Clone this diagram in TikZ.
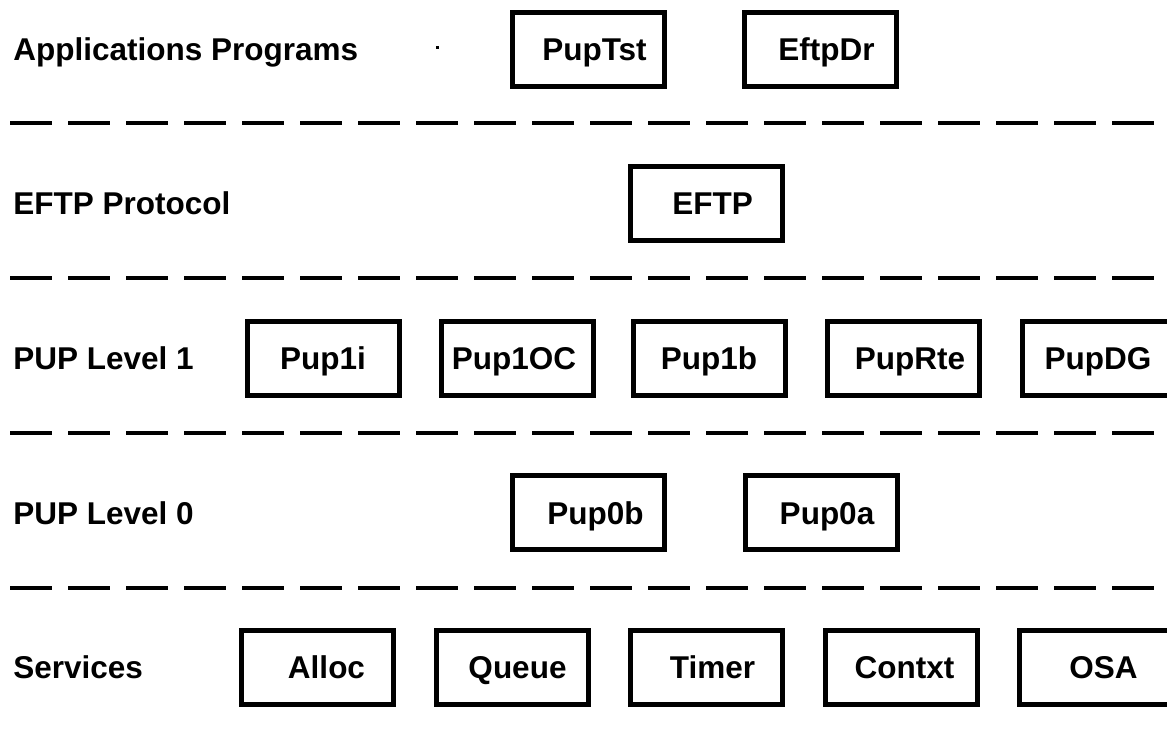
\documentclass[tikz,border=0pt]{standalone}
\usepackage{fontspec}
\setmainfont{Liberation Sans}
\begin{document}
	\begin{tikzpicture}[x=0.5pt,y=-0.5pt,
		every node/.style={font=\fontsize{15.75}{18}\selectfont\bfseries,text height=11.3pt,text depth=0pt},
		layer/.style={anchor=west,inner sep=0pt},
		module/.style={draw,line width=2.5pt,minimum width=76pt,minimum height=37pt,inner sep=0pt},
		nudge/.style={execute at begin node={\hspace*{#1}}},
		sep/.style={line width=2pt,dash pattern=on 21pt off 8pt}]
		\useasboundingbox (0,0) rectangle (1167,740);
		\clip (0,0) rectangle (1167,740);
		% layer names
		\node [layer] (apps) at (13,49) {Applications Programs};
		\node [layer] (proto) at (13,203.6) {EFTP Protocol};
		\node [layer] (lvl1) at (13,358.2) {PUP Level 1};
		\node [layer] (lvl0) at (13,512.8) {PUP Level 0};
		\node [layer] (serv) at (13,667.4) {Services};
		% modules
		\node [module,nudge=6pt] (puptst) at (588.5,49) {PupTst};
		\node [module,nudge=6pt] (eftpdr) at (820.5,49) {EftpDr};
		\node [module,nudge=6pt] (eftp) at (706.5,203.6) {EFTP};
		\node [module] (pupi) at (323,358.2) {Pup1i};
		\node [module,nudge=-3pt] (pupoc) at (517,358.2) {Pup1OC};
		\node [module] (pupb) at (709,358.2) {Pup1b};
		\node [module,nudge=7pt] (puprte) at (903,358.2) {PupRte};
		\node [module] (pupdg) at (1098,358.2) {PupDG};
		\node [module,nudge=7pt] (pupzb) at (588.5,512.8) {Pup0b};
		\node [module,nudge=6pt] (pupza) at (821,512.8) {Pup0a};
		\node [module,nudge=9pt] (alloc) at (317.5,667.4) {Alloc};
		\node [module,nudge=5pt] (queue) at (512.5,667.4) {Queue};
		\node [module,nudge=6pt] (timer) at (706.5,667.4) {Timer};
		\node [module,nudge=3pt] (contxt) at (901.5,667.4) {Contxt};
		\node [module,nudge=8pt] (osa) at (1095.5,667.4) {OSA};
		% separators
		\foreach \y/\n in {123/1,278/2,433/3,588/4} {
			\coordinate (s\n a) at (10,\y);
			\coordinate (s\n b) at (1154,\y);
			\draw [sep] (s\n a) -- (s\n b);
		}
		\fill (436,46) rectangle (439,49);
	\end{tikzpicture}
\end{document}
